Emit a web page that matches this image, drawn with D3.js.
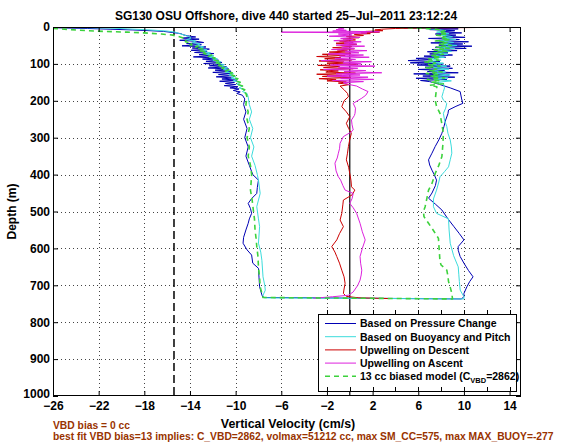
<!DOCTYPE html>
<html><head><meta charset="utf-8">
<script src="https://cdn.jsdelivr.net/npm/d3@7"></script>
<style>
html,body{margin:0;padding:0;background:#fff;}
svg{display:block;font-family:"Liberation Sans",Arial,Helvetica,sans-serif;}
</style></head>
<body><svg id="chart" width="568" height="442"></svg>
<script>
const title = "SG130 OSU Offshore, dive 440 started 25\u2013Jul\u20132011 23:12:24";
const xLabel = "Vertical Velocity (cm/s)";
const yLabel = "Depth (m)";
const note1 = "VBD bias = 0 cc";
const note2 = "best fit VBD bias=13 implies: C_VBD=2862, volmax=51212 cc, max SM_CC=575, max MAX_BUOY=-277";
const xTicks = [-26,-22,-18,-14,-10,-6,-2,2,6,10,14];
const yTicks = [0,100,200,300,400,500,600,700,800,900,1000];
const legendTicks = [-2,0,2,4,6,8,10,12,14];
const xDomain = [-26,15];
const yDomain = [0,1000];
const biasLine = -15.4;   // dashed reference velocity
const zeroLine = 0;

// [depth (m), vertical velocity (cm/s)]
const pressureDescent = [[2,-26],[4,-23],[6,-21],[8,-19],[10,-17.5],[12,-16.3],[15,-15.5],[18,-14.8],[21,-14.6],[24,-14.2],[27,-13.5],[30,-14.6],[33,-13.2],[36,-14.9],[39,-13.4],[42,-12.8],[45,-14.3],[48,-13],[51,-14.7],[54,-12.6],[57,-13.8],[60,-12.3],[63,-13.9],[66,-12.5],[69,-13.6],[72,-11.9],[75,-13.2],[78,-12.1],[81,-13.7],[84,-11.8],[87,-12.9],[90,-11.5],[93,-12.6],[96,-11.2],[99,-12.8],[102,-11],[105,-12.3],[108,-10.8],[111,-12.4],[114,-10.6],[117,-11.8],[120,-10.4],[123,-12],[126,-10.5],[129,-11.5],[132,-10.2],[135,-11.7],[138,-10.3],[141,-11.2],[144,-9.9],[147,-11.4],[150,-10.1],[153,-10.9],[156,-10],[159,-11],[162,-9.8],[165,-10.5],[168,-9.7],[172,-10.2],[176,-9.6],[180,-9.9],[185,-9.4],[195,-9.2],[210,-9.3],[230,-9.1],[250,-9.3],[275,-9.0],[300,-9.2],[325,-8.9],[350,-9.1],[375,-8.8],[400,-8.5],[415,-8.0],[435,-8.1],[451,-8.15],[465,-8.6],[478,-8.9],[492,-8.7],[505,-8.6],[520,-8.8],[532,-8.9],[550,-9.1],[570,-9.3],[586,-9.35],[604,-9.0],[618,-8.6],[640,-8.5],[654,-8.0],[680,-7.95],[704,-7.9],[726,-7.7],[733,-7.6]];
const pressureAscent = [[737,9.8],[730,10.0],[722,10.0],[704,10.26],[690,10.5],[677,10.8],[660,10.4],[640,10.0],[622,9.67],[605,9.5],[595,9.5],[577,10.0],[560,9.6],[540,9.1],[520,8.6],[496,8.07],[480,7.5],[464,6.9],[450,7.2],[430,7.5],[415,7.6],[400,7.4],[388,7.2],[374,7.0],[360,6.9],[342,7.2],[324,7.48],[306,7.8],[288,8.07],[270,8.25],[252,8.4],[235,8.6],[225,8.65],[215,9.3],[207,9.9],[195,9.8],[175,9.67],[165,8.8],[155,7.8],[148,7.0],[145,6.2],[142,8.5],[139,5.8],[136,9.2],[133,6.4],[130,8.7],[127,5.6],[124,9.5],[121,6.8],[118,8.3],[115,6.0],[112,9.0],[109,6.6],[106,8.8],[103,5.9],[100,8.2],[97,5.3],[94,7.9],[91,5.1],[88,7.2],[85,5.8],[82,8.4],[79,6.5],[76,9.0],[73,7.0],[70,8.6],[67,6.8],[64,9.4],[61,7.2],[58,10.2],[55,7.5],[52,10.7],[49,7.8],[46,9.9],[43,7.1],[40,10.4],[37,7.6],[34,9.6],[31,6.9],[28,10.1],[25,8.2],[22,9.3],[19,7.5],[16,9.8],[13,8.0],[10,9.2],[7,7.0],[5,9.5],[3,5.0],[1,3.0],[0,2.0]];
const buoyancyDescent = [[1,-26],[2,-23],[3,-21],[5,-19.5],[8,-17.5],[11,-16],[14,-15.3],[18,-14.9],[22,-14.5],[26,-14.1],[30,-13.9],[34,-14.3],[38,-13.5],[42,-13.8],[46,-13.1],[50,-13.5],[54,-12.8],[58,-13.2],[62,-12.5],[66,-12.9],[70,-12.2],[74,-12.6],[78,-11.9],[82,-12.3],[86,-11.6],[90,-12],[94,-11.3],[98,-11.7],[102,-11],[106,-11.4],[110,-10.7],[114,-11.1],[118,-10.5],[122,-10.9],[126,-10.2],[130,-10.6],[134,-10],[138,-10.4],[142,-9.8],[146,-10.2],[150,-9.6],[155,-9.9],[160,-9.4],[165,-9.7],[170,-9.2],[175,-9.4],[180,-9.0],[190,-8.9],[210,-8.8],[230,-8.6],[250,-8.8],[275,-8.5],[300,-8.7],[325,-8.4],[350,-8.6],[375,-8.3],[400,-8.1],[415,-8.0],[451,-7.85],[487,-8.15],[520,-8.0],[541,-7.9],[586,-8.0],[610,-7.8],[632,-7.7],[677,-7.6],[700,-7.45],[713,-7.4],[727,-7.6],[734,-7.5]];
const buoyancyAscent = [[737,10.0],[731,10.0],[713,9.67],[690,9.6],[670,9.55],[650,9.5],[620,9.1],[586,8.8],[550,8.7],[520,8.65],[505,7.6],[487,7.33],[466,7.33],[442,7.6],[420,7.8],[406,7.9],[392,8.3],[379,8.65],[360,8.8],[342,8.94],[325,8.9],[306,8.8],[288,8.6],[270,8.5],[252,8.3],[234,8.2],[220,8.4],[207,8.5],[198,8.2],[189,8.07],[175,8.2],[165,8.3],[153,8.2],[150,7.6],[146,8.9],[142,7.4],[138,8.6],[134,7.2],[130,8.8],[126,7.5],[122,8.4],[118,7.0],[114,8.7],[110,7.3],[106,8.5],[102,7.1],[98,8.2],[94,6.8],[90,8.0],[86,7.0],[82,8.3],[78,7.2],[74,8.6],[70,7.4],[66,8.9],[62,7.6],[58,9.2],[54,7.8],[50,9.4],[46,8.0],[42,9.1],[38,7.8],[34,9.3],[30,8.1],[26,9.0],[22,8.0],[18,8.7],[14,7.6],[10,8.4],[7,7.8],[4,6.5],[2,4.5],[0,3.0]];
const modelDescent = [[4,-26],[7,-24.5],[10,-23],[12,-21.5],[14,-19.5],[16,-18],[19,-16.5],[22,-15.5],[26,-15],[30,-14.6],[35,-14.3],[40,-14.4],[44,-13.8],[48,-14],[52,-13.3],[56,-13.6],[60,-12.9],[64,-13.2],[68,-12.5],[72,-12.8],[76,-12.1],[80,-12.4],[84,-11.8],[88,-12.1],[92,-11.5],[96,-11.8],[100,-11.2],[104,-11.5],[108,-10.9],[112,-11.2],[116,-10.6],[120,-10.9],[124,-10.3],[128,-10.6],[132,-10.1],[136,-10.3],[140,-9.8],[145,-10.1],[150,-9.6],[155,-9.9],[160,-9.4],[165,-9.6],[170,-9.2],[175,-9.4],[180,-9.1],[190,-9.0],[210,-9.1],[230,-8.9],[250,-9.0],[275,-8.8],[300,-9.0],[325,-8.8],[350,-8.9],[375,-8.7],[400,-8.6],[424,-8.65],[442,-8.7],[470,-8.55],[496,-8.45],[520,-8.35],[550,-8.3],[575,-8.2],[595,-8.15],[620,-8.05],[650,-8.0],[680,-7.9],[704,-7.85],[722,-7.7],[733,-7.6]];
const modelAscent = [[737,9.0],[722,8.94],[705,8.8],[690,8.65],[675,8.6],[659,8.5],[645,8.0],[636,7.9],[610,7.85],[590,7.8],[573,7.77],[550,7.3],[532,6.9],[514,6.5],[500,6.45],[487,6.6],[465,6.75],[442,6.9],[424,7.2],[410,7.35],[397,7.48],[375,7.8],[351,8.07],[320,8.15],[288,8.2],[260,8.05],[234,7.9],[215,7.6],[198,7.48],[180,7.55],[162,7.63],[158,7.0],[154,8.2],[150,7.1],[146,7.9],[142,6.8],[138,8.3],[134,7.0],[130,7.8],[126,6.7],[122,8.1],[118,7.0],[114,7.6],[110,6.6],[106,7.9],[102,6.9],[98,7.5],[94,6.5],[90,7.8],[86,6.9],[82,8.0],[78,7.1],[74,8.2],[70,7.3],[66,8.5],[62,7.4],[58,8.7],[54,7.6],[50,8.9],[46,7.8],[42,8.6],[38,7.5],[34,8.8],[30,7.9],[26,8.4],[22,7.6],[18,8.6],[14,7.8],[10,8.3],[6,7.6],[3,6.0],[1,4.5],[0,3.5]];
const upwellDescent = [[0,14.8],[1,12.5],[2,9.0],[3,6.0],[4,4.0],[6,2.8],[8,2.2],[10,2.9],[12,1.4],[14,2.6],[16,1.0],[18,1.8],[20,0.4],[23,1.2],[26,-0.3],[29,0.8],[32,-0.6],[35,0.5],[38,-0.9],[41,0.3],[44,-1.2],[47,0.6],[50,-0.8],[53,0.2],[56,-1.5],[59,0.4],[62,-1.1],[65,-0.2],[68,-1.8],[71,0.1],[74,-2.4],[77,-0.4],[80,-2.9],[83,-0.8],[86,-2.2],[89,0.2],[92,-2.7],[95,-0.5],[98,-2.0],[101,0.6],[104,-2.8],[107,-0.9],[110,-2.3],[113,0.3],[116,-2.6],[119,-1.0],[122,-2.1],[125,0.5],[128,-2.9],[131,-0.7],[134,-2.4],[137,0.1],[140,-2.7],[143,-1.2],[146,-2.0],[149,-0.3],[152,-1.0],[156,0.0],[160,-0.85],[170,-0.5],[180,-0.2],[189,-0.12],[200,-0.5],[216,-0.7],[230,-0.3],[243,0.0],[261,-0.3],[275,-0.1],[288,0.14],[305,0.0],[324,-0.12],[342,-0.2],[360,-0.3],[380,-0.1],[397,0.0],[415,0.1],[433,0.15],[442,0.44],[455,0.2],[469,-0.56],[480,-0.6],[505,-0.7],[523,-0.85],[541,-0.56],[560,-0.9],[577,-1.14],[595,-1.58],[610,-1.3],[622,-1.14],[640,-0.9],[659,-0.7],[677,-0.5],[695,-0.41],[710,-0.5],[722,-0.56],[730,-0.3],[734,0.8],[736,3.5]];
const upwellAscent = [[735,-3.2],[731,-1.5],[727,-0.12],[718,0.3],[700,0.7],[686,0.9],[672,1.0],[659,1.05],[640,0.95],[622,0.9],[600,1.1],[577,1.35],[555,1.1],[532,0.9],[505,0.6],[490,0.3],[478,0.0],[465,0.2],[451,0.3],[442,-0.41],[430,-0.6],[415,-0.8],[406,-1.0],[390,-1.2],[369,-1.3],[355,-1.1],[342,-1.0],[330,-0.9],[315,-0.85],[297,-0.56],[285,0.1],[279,0.3],[265,0.2],[252,0.15],[240,0.4],[234,0.46],[220,0.5],[207,0.3],[193,1.05],[185,1.4],[175,1.6],[168,1.1],[160,0.6],[155,-0.2],[151,-0.56],[148,1.2],[145,-1.5],[142,2.1],[139,-0.8],[136,1.6],[133,-2.0],[130,0.9],[127,-1.2],[124,2.8],[121,-0.5],[118,1.4],[115,-2.3],[112,0.7],[109,-1.0],[106,2.2],[103,-1.7],[100,1.0],[97,-0.6],[94,1.9],[91,-2.5],[88,0.5],[85,-1.3],[82,1.7],[79,-0.9],[76,1.2],[73,-1.9],[70,0.8],[67,-0.4],[64,1.5],[61,-1.6],[58,0.4],[55,-0.7],[52,1.3],[49,-1.2],[46,0.6],[43,-0.5],[40,1.0],[37,-1.4],[34,0.3],[31,-0.8],[28,0.9],[25,-1.8],[22,0.2],[19,-1.0],[16,1.5],[14,-6.0],[13,2.6],[11,-1.5],[9,-0.3],[7,-1.2],[5,-0.5],[3,-1.0],[1,-0.8],[0,-0.6]];

const legendLabels = ["Based on Pressure Change","Based on Buoyancy and Pitch","Upwelling on Descent","Upwelling on Ascent","13 cc biased model (C"];
const seriesColors = ["#0000b4","#3cdcdc","#cc0000","#dd22dd","#3cd23c"];

const svg = d3.select("#chart");
const x = d3.scaleLinear().domain(xDomain).range([53,521]);
const y = d3.scaleLinear().domain(yDomain).range([27,396]);
const L = x.range()[0], R = x.range()[1], T = y.range()[0], B = y.range()[1];

svg.append("rect").attr("width",568).attr("height",442).attr("fill","#fff");
svg.append("rect").attr("x",L).attr("y",T).attr("width",R-L).attr("height",B-T).attr("fill","#fff");

// grid
const grid = svg.append("g").attr("stroke","#444").attr("stroke-width",1).attr("stroke-dasharray","1,3");
grid.selectAll("line.gx").data(xTicks.filter(d=>d>xDomain[0])).join("line")
  .attr("x1",d=>Math.round(x(d))+0.5).attr("x2",d=>Math.round(x(d))+0.5).attr("y1",T).attr("y2",B);
grid.selectAll("line.gy").data(yTicks.filter(d=>d>0&&d<1000)).join("line")
  .attr("y1",d=>Math.round(y(d))+0.5).attr("y2",d=>Math.round(y(d))+0.5).attr("x1",L).attr("x2",R);

svg.append("clipPath").attr("id","clip").append("rect").attr("x",L).attr("y",T).attr("width",R-L).attr("height",B-T);
const plot = svg.append("g").attr("clip-path","url(#clip)");

// reference lines
plot.append("line").attr("x1",x(biasLine)).attr("x2",x(biasLine)).attr("y1",T).attr("y2",B)
  .attr("stroke","#000").attr("stroke-width",1.5).attr("stroke-dasharray","8,4");
plot.append("line").attr("x1",x(zeroLine)).attr("x2",x(zeroLine)).attr("y1",T).attr("y2",B)
  .attr("stroke","#000").attr("stroke-width",1.2);

const line = d3.line().x(d=>x(d[1])).y(d=>y(d[0]));
const series = [
  {data: pressureDescent.concat(pressureAscent), c: seriesColors[0], w:1},
  {data: buoyancyDescent.concat(buoyancyAscent), c: seriesColors[1], w:1},
  {data: upwellDescent, c: seriesColors[2], w:1},
  {data: upwellAscent, c: seriesColors[3], w:1},
  {data: modelDescent.concat(modelAscent), c: seriesColors[4], w:1.6, dash:"5,4"}
];
series.forEach(s=>{
  plot.append("path").attr("d",line(s.data)).attr("fill","none").attr("stroke",s.c)
    .attr("stroke-width",s.w).attr("stroke-linejoin","round")
    .attr("stroke-dasharray",s.dash||null);
});

// frame
svg.append("rect").attr("x",L+0.5).attr("y",T+0.5).attr("width",R-L-1).attr("height",B-T-1)
  .attr("fill","none").attr("stroke","#000").attr("stroke-width",1);

// axes
const fontTick = "bold 12px 'Liberation Sans', Arial, sans-serif";
const fmt = d=> d<0 ? "\u2212"+Math.abs(d) : String(d);
const ax = svg.append("g").attr("transform",`translate(0,${B})`)
  .call(d3.axisBottom(x).tickValues(xTicks).tickSize(-5).tickPadding(5).tickFormat(fmt));
const axT = svg.append("g").attr("transform",`translate(0,${T})`)
  .call(d3.axisTop(x).tickValues(xTicks).tickSize(-5).tickFormat(""));
const ay = svg.append("g").attr("transform",`translate(${L},0)`)
  .call(d3.axisLeft(y).tickValues(yTicks).tickSize(-5).tickPadding(3).tickFormat(d=>String(d)));
const ayR = svg.append("g").attr("transform",`translate(${R},0)`)
  .call(d3.axisRight(y).tickValues(yTicks).tickSize(-5).tickFormat(""));
[ax,axT,ay,ayR].forEach(g=>{
  g.select(".domain").remove();
  g.selectAll(".tick line").attr("stroke","#000");
  g.selectAll("text").style("font",fontTick).attr("fill","#000");
});
// lift the bottom-most depth label a little, as in the reference
ay.selectAll(".tick").filter(d=>d===1000).select("text").attr("dy","0.1em");

// labels
svg.append("text").attr("x",286).attr("y",20).attr("text-anchor","middle")
  .style("font","bold 12px 'Liberation Sans', Arial, sans-serif").text(title);
svg.append("text").attr("x",288).attr("y",428).attr("text-anchor","middle")
  .style("font","bold 12.4px 'Liberation Sans', Arial, sans-serif").text(xLabel);
svg.append("text").attr("transform",`translate(16,${(T+B)/2}) rotate(-90)`).attr("text-anchor","middle")
  .style("font","bold 12px 'Liberation Sans', Arial, sans-serif").text(yLabel);
svg.append("text").attr("x",53).attr("y",429).attr("fill","#993300")
  .style("font","bold 10.3px 'Liberation Sans', Arial, sans-serif").text(note1);
svg.append("text").attr("x",53).attr("y",440).attr("fill","#993300")
  .style("font","bold 10.3px 'Liberation Sans', Arial, sans-serif").text(note2);

// legend
const lg = svg.append("g");
const lx0 = 318, ly0 = 314, lx1 = 516, ly1 = 391;
lg.append("rect").attr("x",lx0+0.5).attr("y",ly0+0.5).attr("width",lx1-lx0).attr("height",ly1-ly0)
  .attr("fill","#fff").attr("stroke","#000").attr("stroke-width",1);
lg.selectAll("line.lt").data(legendTicks).join("line")
  .attr("x1",d=>Math.round(x(d))+0.5).attr("x2",d=>Math.round(x(d))+0.5).attr("y1",ly0-4).attr("y2",ly0)
  .attr("stroke","#000");
lg.selectAll("line.lb").data(legendTicks).join("line")
  .attr("x1",d=>Math.round(x(d))+0.5).attr("x2",d=>Math.round(x(d))+0.5).attr("y1",ly1-4).attr("y2",ly1)
  .attr("stroke","#000");
legendLabels.forEach((lab,i)=>{
  const cy = 323.5 + i*13.2;
  lg.append("line").attr("x1",325).attr("x2",356).attr("y1",cy).attr("y2",cy)
    .attr("stroke",seriesColors[i]).attr("stroke-width", i===4?1.6:1)
    .attr("stroke-dasharray", i===4?"5,4":null);
  const t = lg.append("text").attr("x",360).attr("y",cy+3.8)
    .style("font","bold 10.5px 'Liberation Sans', Arial, sans-serif").text(lab);
  if(i===4){
    t.append("tspan").attr("dy",3).style("font-size","7.5px").text("VBD");
    t.append("tspan").attr("dy",-3).text("=2862)");
  }
});
</script></body></html>
